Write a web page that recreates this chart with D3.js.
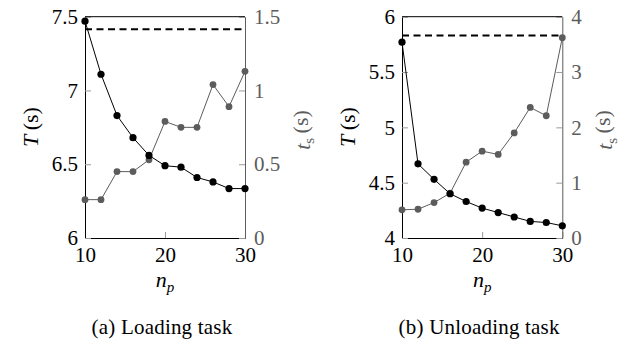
<!DOCTYPE html>
<html>
<head>
<meta charset="utf-8">
<script src="https://cdn.jsdelivr.net/npm/d3@7"></script>
</head>
<body style="margin:0">
<script>
// number of pickers
const np = [10, 12, 14, 16, 18, 20, 22, 24, 26, 28, 30];

// (a) loading task
const loadT = [7.47, 7.11, 6.83, 6.68, 6.56, 6.49, 6.48, 6.41, 6.38, 6.335, 6.335];
const loadTs = [0.26, 0.26, 0.45, 0.45, 0.53, 0.79, 0.75, 0.75, 1.04, 0.89, 1.13];
const loadRef = 7.415;
const loadTTicks = [6, 6.5, 7, 7.5];
const loadTsTicks = [0, 0.5, 1, 1.5];

// (b) unloading task
const unloadT = [5.77, 4.67, 4.53, 4.40, 4.33, 4.27, 4.23, 4.19, 4.15, 4.14, 4.11];
const unloadTs = [0.51, 0.52, 0.64, 0.81, 1.37, 1.57, 1.51, 1.90, 2.36, 2.21, 3.62];
const unloadRef = 5.83;
const unloadTTicks = [4, 4.5, 5, 5.5, 6];
const unloadTsTicks = [0, 1, 2, 3, 4];

const xTicks = [10, 20, 30];
const captions = ["(a) Loading task", "(b) Unloading task"];

const width = 632, height = 345;
const fs = 21;
const face = '"Liberation Serif"';
const gray = "#5c5c5c";
const tickGray = "#9a9a9a";

const svg = d3.select("body").append("svg")
    .attr("width", width)
    .attr("height", height);

function label(sel, size) {
    return sel.attr("font-size", size).attr("font-family", "Liberation Serif").style("font-family", face);
}

function drawPanel(p) {
    let x = d3.scaleLinear().domain([10, 30]).range([p.left, p.right]);
    let yT = d3.scaleLinear().domain(p.tDomain).range([238, 16.7]);
    let yS = d3.scaleLinear().domain(p.sDomain).range([238, 16.7]);

    let g = svg.append("g");

    // axes
    let bottom = g.append("g")
        .attr("transform", `translate(0,${yT.range()[0]})`)
        .call(d3.axisBottom(x).tickValues(xTicks).tickSize(-6).tickSizeOuter(0).tickPadding(9));
    let left = g.append("g")
        .attr("transform", `translate(${p.left},0)`)
        .call(d3.axisLeft(yT).tickValues(p.tTicks).tickFormat(d => d).tickSize(-6).tickSizeOuter(0).tickPadding(7));
    let right = g.append("g")
        .attr("transform", `translate(${p.right},0)`)
        .call(d3.axisRight(yS).tickValues(p.sTicks).tickFormat(d => d).tickSize(-6).tickSizeOuter(0).tickPadding(9));

    [bottom, left, right].forEach(a => {
        a.attr("font-family", null).attr("font-size", null);
        label(a.selectAll("text"), fs).attr("fill", "#000");
        a.selectAll(".tick line").attr("stroke", tickGray);
        a.select(".domain").attr("stroke", "#000").attr("stroke-width", 1);
    });
    right.selectAll("text").attr("fill", gray);
    right.select(".domain").attr("stroke", gray);

    g.append("line")
        .attr("x1", p.left).attr("x2", p.right)
        .attr("y1", yT.range()[1]).attr("y2", yT.range()[1])
        .attr("stroke", "#000");

    // ts series (gray)
    let sData = np.map((n, i) => [n, p.ts[i]]);
    g.append("path")
        .datum(sData)
        .attr("fill", "none")
        .attr("stroke", gray)
        .attr("stroke-width", 1)
        .attr("d", d3.line().x(d => x(d[0])).y(d => yS(d[1])));
    g.selectAll(".ms")
        .data(sData)
        .enter()
        .append("circle")
        .attr("class", "ms")
        .attr("cx", d => x(d[0]))
        .attr("cy", d => yS(d[1]))
        .attr("r", 3.4)
        .attr("fill", gray);

    // T series (black)
    let tData = np.map((n, i) => [n, p.T[i]]);
    g.append("path")
        .datum(tData)
        .attr("fill", "none")
        .attr("stroke", "#000")
        .attr("stroke-width", 1)
        .attr("d", d3.line().x(d => x(d[0])).y(d => yT(d[1])));
    g.selectAll(".mt")
        .data(tData)
        .enter()
        .append("circle")
        .attr("class", "mt")
        .attr("cx", d => x(d[0]))
        .attr("cy", d => yT(d[1]))
        .attr("r", 3.6)
        .attr("fill", "#000");

    // reference (dashed)
    g.append("line")
        .attr("x1", x(10)).attr("x2", x(30))
        .attr("y1", yT(p.ref)).attr("y2", yT(p.ref))
        .attr("stroke", "#000")
        .attr("stroke-width", 1.8)
        .attr("stroke-dasharray", "7,4.5");

    // axis labels
    let tl = label(g.append("text"), 22)
        .attr("transform", `translate(${p.left - 55},127) rotate(-90)`)
        .attr("text-anchor", "middle")
        .attr("dy", "0.35em");
    tl.append("tspan").attr("font-style", "italic").text("T");
    tl.append("tspan").text("\u2009(s)");

    let sl = label(g.append("text"), 22)
        .attr("transform", `translate(${p.right + p.sLabelOff},130) rotate(-90)`)
        .attr("text-anchor", "middle")
        .attr("dy", "0.35em")
        .attr("fill", gray);
    sl.append("tspan").attr("font-style", "italic").text("t");
    sl.append("tspan").attr("font-size", 15).attr("dy", "0.3em").text("s");
    sl.append("tspan").attr("dy", "-0.3em").text("\u2009(s)");

    let xl = label(g.append("text"), 22)
        .attr("x", (p.left + p.right) / 2)
        .attr("y", 287)
        .attr("text-anchor", "middle");
    xl.append("tspan").attr("font-style", "italic").text("n");
    xl.append("tspan").attr("font-style", "italic").attr("font-size", 15).attr("dy", "0.3em").text("p");

    label(g.append("text"), 21)
        .attr("x", (p.left + p.right) / 2 - 3)
        .attr("y", 334)
        .attr("text-anchor", "middle")
        .attr("letter-spacing", 0.2)
        .text(p.caption);
}

drawPanel({
    left: 85, right: 245,
    tDomain: [6, 7.5], sDomain: [0, 1.5],
    tTicks: loadTTicks, sTicks: loadTsTicks,
    T: loadT, ts: loadTs, ref: loadRef,
    sLabelOff: 57, caption: captions[0]
});

drawPanel({
    left: 402, right: 562.3,
    tDomain: [4, 6], sDomain: [0, 4],
    tTicks: unloadTTicks, sTicks: unloadTsTicks,
    T: unloadT, ts: unloadTs, ref: unloadRef,
    sLabelOff: 42, caption: captions[1]
});
</script>
</body>
</html>
